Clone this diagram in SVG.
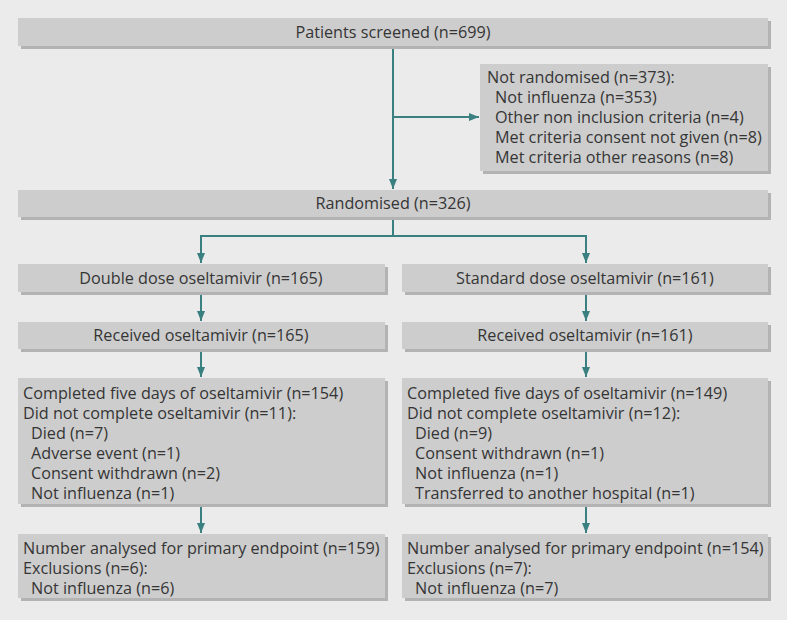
<svg xmlns="http://www.w3.org/2000/svg" width="787" height="620" viewBox="0 0 787 620">
<defs>
<marker id="ah" markerWidth="10" markerHeight="10" viewBox="0 0 10 10" refX="10" refY="5" orient="auto" markerUnits="userSpaceOnUse">
<path d="M0,1 L10,5 L0,9 z" fill="#3a8080"/>
</marker>
<style>
.sh{fill:#b3b3b3}
.bx{fill:#cdcdcd}
text{font-family:"Open Sans","Liberation Sans",sans-serif;font-size:16.2px;fill:#353535}
.c{text-anchor:middle}
.ln{fill:none;stroke:#3a8080;stroke-width:2;marker-end:url(#ah)}
</style>
</defs>
<rect x="0" y="0" width="787" height="620" fill="#ebebeb"/>
<g id="screened">
<rect class="sh" x="21" y="21" width="750" height="28"/>
<rect class="bx" x="18" y="18" width="750" height="28"/>
<text class="c" x="393" y="37.5">Patients screened (n=699)</text>
</g>
<g id="notrand">
<rect class="sh" x="483" y="67" width="288" height="107"/>
<rect class="bx" x="480" y="64" width="288" height="107"/>
<text x="487" y="83">Not randomised (n=373):</text>
<text x="495" y="103">Not influenza (n=353)</text>
<text x="495" y="123">Other non inclusion criteria (n=4)</text>
<text x="495" y="143">Met criteria consent not given (n=8)</text>
<text x="495" y="163">Met criteria other reasons (n=8)</text>
</g>
<g id="randomised">
<rect class="sh" x="21" y="193" width="750" height="27"/>
<rect class="bx" x="18" y="190" width="750" height="27"/>
<text class="c" x="393" y="208.5">Randomised (n=326)</text>
</g>
<g id="double">
<rect class="sh" x="21" y="267" width="367" height="28"/>
<rect class="bx" x="18" y="264" width="367" height="28"/>
<text class="c" x="201" y="283.5">Double dose oseltamivir (n=165)</text>
</g>
<g id="standard">
<rect class="sh" x="405" y="267" width="366" height="28"/>
<rect class="bx" x="402" y="264" width="366" height="28"/>
<text class="c" x="585" y="283.5">Standard dose oseltamivir (n=161)</text>
</g>
<g id="recL">
<rect class="sh" x="21" y="325" width="367" height="27"/>
<rect class="bx" x="18" y="322" width="367" height="27"/>
<text class="c" x="201" y="341">Received oseltamivir (n=165)</text>
</g>
<g id="recR">
<rect class="sh" x="405" y="325" width="366" height="27"/>
<rect class="bx" x="402" y="322" width="366" height="27"/>
<text class="c" x="585" y="341">Received oseltamivir (n=161)</text>
</g>
<g id="compL">
<rect class="sh" x="21" y="381" width="367" height="126"/>
<rect class="bx" x="18" y="378" width="367" height="126"/>
<text x="23" y="398.5">Completed five days of oseltamivir (n=154)</text>
<text x="23" y="418.5">Did not complete oseltamivir (n=11):</text>
<text x="31" y="438.5">Died (n=7)</text>
<text x="31" y="458.5">Adverse event (n=1)</text>
<text x="31" y="478.5">Consent withdrawn (n=2)</text>
<text x="31" y="498.5">Not influenza (n=1)</text>
</g>
<g id="compR">
<rect class="sh" x="405" y="381" width="366" height="126"/>
<rect class="bx" x="402" y="378" width="366" height="126"/>
<text x="407" y="398.5">Completed five days of oseltamivir (n=149)</text>
<text x="407" y="418.5">Did not complete oseltamivir (n=12):</text>
<text x="415" y="438.5">Died (n=9)</text>
<text x="415" y="458.5">Consent withdrawn (n=1)</text>
<text x="415" y="478.5">Not influenza (n=1)</text>
<text x="415" y="498.5">Transferred to another hospital (n=1)</text>
</g>
<g id="anaL">
<rect class="sh" x="21" y="537" width="367" height="64"/>
<rect class="bx" x="18" y="534" width="367" height="64"/>
<text x="23" y="554">Number analysed for primary endpoint (n=159)</text>
<text x="23" y="574">Exclusions (n=6):</text>
<text x="31" y="594">Not influenza (n=6)</text>
</g>
<g id="anaR">
<rect class="sh" x="405" y="537" width="366" height="64"/>
<rect class="bx" x="402" y="534" width="366" height="64"/>
<text x="407" y="554">Number analysed for primary endpoint (n=154)</text>
<text x="407" y="574">Exclusions (n=7):</text>
<text x="415" y="594">Not influenza (n=7)</text>
</g>
<g id="connectors">
<path class="ln" d="M393,49 V189"/>
<path class="ln" d="M393,117 H479"/>
<path class="ln" d="M393,220 V236 H201 V263"/>
<path class="ln" d="M393,236 H586 V263"/>
<path class="ln" d="M201,295 V321"/>
<path class="ln" d="M586,295 V321"/>
<path class="ln" d="M201,352 V377"/>
<path class="ln" d="M586,352 V377"/>
<path class="ln" d="M201,507 V533"/>
<path class="ln" d="M586,507 V533"/>
</g>
</svg>
